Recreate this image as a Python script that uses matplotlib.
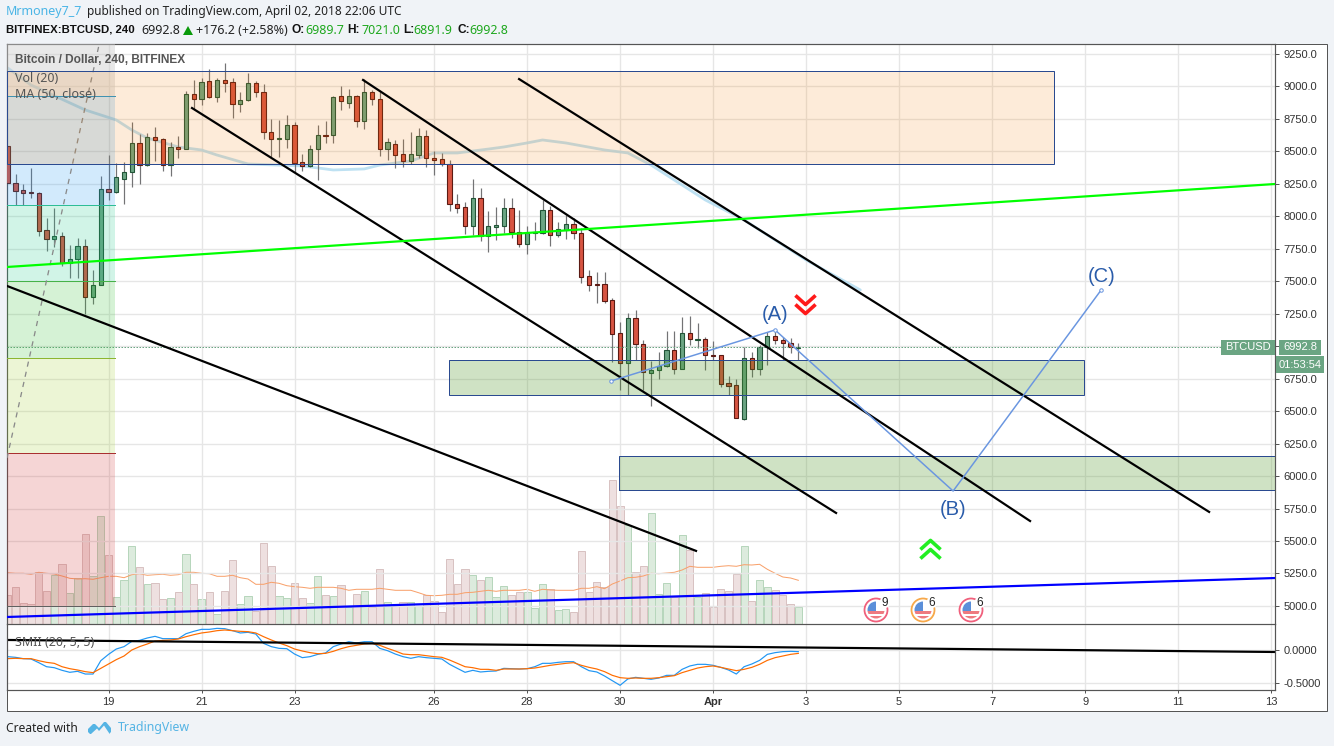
# -*- coding: utf-8 -*-
import matplotlib
matplotlib.use("Agg")
import matplotlib.pyplot as plt
import numpy as np
from matplotlib.patches import Circle, Rectangle, Polygon
from matplotlib.path import Path

plt.rcParams['font.family'] = ['Noto Sans', 'DejaVu Sans']

# bars are numbered from 19 March 00:00, six 4h bars per day
bars = np.arange(-13, 90)

opens = [8542, 8254, 8200, 8185, 8177, 7892, 7828, 7846, 7643, 7669, 7769, 7382, 7469,
         8208, 8190, 8290, 8339, 8562, 8393, 8608, 8593, 8393, 8532, 8521, 8940, 8901, 9040,
         8922, 9050, 9032, 8868, 8893, 9024, 8955, 8647, 8598, 8598, 8701, 8416, 8385, 8516,
         8624, 8624, 8924, 8875, 8924, 8732, 8955, 8901, 8521, 8555, 8478, 8429, 8475, 8616,
         8447, 8439, 8406, 8098, 8070, 7928, 8139, 7851, 7921, 7928, 8062, 7882, 7790, 7870,
         7874, 8046, 7859, 7895, 7939, 7869, 7538, 7479, 7477, 7353, 7099, 6868, 7215, 7020,
         6796, 6814, 6845, 6968, 6822, 7099, 7051, 7053, 6933, 6930, 6714, 6699, 6442, 6907,
         6822, 6992, 7076, 7045, 7028, 6989.7]
closes = [8254, 8198, 8182, 8177, 7890, 7828, 7851, 7643, 7669, 7769, 7382, 7469, 8208,
          8190, 8300, 8339, 8562, 8393, 8608, 8591, 8393, 8532, 8521, 8940, 8901, 9032, 8922,
          9050, 9029, 8868, 8893, 9024, 8955, 8647, 8598, 8603, 8701, 8413, 8388, 8516, 8624,
          8619, 8917, 8886, 8924, 8732, 8955, 8901, 8521, 8570, 8475, 8429, 8478, 8616, 8447,
          8437, 8403, 8098, 8067, 7928, 8139, 7851, 7923, 7931, 8062, 7882, 7790, 7869, 7880,
          8046, 7859, 7900, 7939, 7869, 7536, 7474, 7474, 7351, 7097, 6868, 7215, 7020, 6799,
          6814, 6848, 6968, 6822, 7099, 7053, 7056, 6930, 6927, 6712, 6696, 6450, 6907, 6822,
          6994, 7076, 7051, 7028, 6992, 6992.8]
highs = [8542, 8326, 8249, 8372, 8190, 7990, 8062, 7877, 7780, 7831, 7823, 7587, 8311,
         8473, 8411, 8421, 8727, 8632, 8639, 8686, 8601, 8570, 8619, 8968, 9050, 9065, 9135,
         9068, 9178, 9065, 8958, 9101, 9040, 9019, 8747, 8742, 8778, 8727, 8480, 8549, 8703,
         8737, 8927, 9004, 8981, 8934, 9058, 8973, 8960, 8601, 8588, 8596, 8647, 8678, 8665,
         8503, 8485, 8434, 8172, 8111, 8290, 8218, 8041, 8075, 8141, 8141, 8049, 7926, 7957,
         8126, 8080, 7957, 8010, 7985, 7908, 7587, 7572, 7572, 7369, 7184, 7253, 7279, 7048,
         6889, 6958, 7117, 7115, 7223, 7233, 7181, 7074, 7038, 6933, 6771, 6748, 6997, 6956,
         7010, 7112, 7125, 7074, 7061, 7021.0]
lows = [8254, 8087, 8087, 8139, 7849, 7733, 7767, 7618, 7528, 7528, 7248, 7325, 7469,
        8126, 8177, 8095, 8229, 8249, 8388, 8429, 8352, 8313, 8452, 8521, 8824, 8860, 8909,
        8883, 8960, 8760, 8804, 8888, 8922, 8598, 8460, 8460, 8529, 8344, 8352, 8383, 8280,
        8567, 8567, 8819, 8837, 8691, 8670, 8857, 8467, 8434, 8375, 8383, 8401, 8447, 8383,
        8318, 8390, 8044, 8028, 7864, 7857, 7810, 7728, 7818, 7874, 7831, 7767, 7710, 7818,
        7864, 7774, 7844, 7826, 7826, 7484, 7428, 7335, 7335, 6881, 6663, 6624, 6894, 6663,
        6542, 6748, 6843, 6786, 6822, 7010, 6984, 6817, 6894, 6684, 6624, 6450, 6432, 6766,
        6779, 6856, 7017, 6894, 6950, 6891.9]

# volume, hundreds of BTC
volumes = [29, 37, 21, 20, 52, 33, 49, 60, 31, 46, 90, 48, 108,
           69, 27, 44, 78, 57, 40, 41, 25, 26, 32, 70, 40, 25, 32,
           10, 33, 64, 20, 28, 13, 81, 58, 28, 26, 41, 26, 21, 48,
           29, 28, 39, 17, 30, 33, 17, 55, 22, 18, 22, 22, 18, 29,
           23, 12, 65, 40, 55, 49, 44, 47, 27, 38, 29, 32, 32, 16,
           40, 35, 14, 15, 12, 73, 32, 42, 37, 144, 118, 99, 52, 58,
           111, 30, 41, 27, 89, 74, 27, 31, 17, 35, 33, 50, 78, 23,
           44, 37, 34, 29, 20, 17]
vol_ma = [51.3, 50.7, 50.7, 49.7, 51.7, 50.7, 50, 48, 45.7, 45, 45.3, 44.7, 46.3,
          47.7, 47.7, 46.3, 49.3, 50.3, 48.7, 49.3, 49.7, 48.7, 49.3, 51.7, 51.7, 50.7, 50.3,
          47.7, 47.7, 48.7, 46.3, 45, 39.7, 39.7, 41.7, 40.7, 38.3, 37.3, 36.7, 35.7, 36.7,
          36.7, 36.7, 35.7, 33.7, 34.7, 34.7, 34.7, 35.7, 34.7, 33.7, 33.7, 33.7, 31.3, 28.7,
          28.3, 28.7, 29.7, 29.7, 31.3, 31.7, 32.7, 33.7, 32.7, 33.7, 33.7, 33.7, 34.7, 32.7,
          34.7, 34, 33.7, 33.7, 33.7, 35.7, 35.7, 37.3, 35.3, 40, 43, 46.3, 46.7, 48,
          50.7, 50.3, 51, 51.7, 54, 57.7, 56.7, 56.7, 56.7, 57.7, 58.3, 57.7, 59.3, 59,
          59.7, 54.7, 50.7, 47, 46, 43.7]

smi_blue = [-0.101, -0.111, -0.131, -0.136, -0.192, -0.253, -0.268, -0.308, -0.338, -0.323, -0.364, -0.364, -0.162,
            -0.066, 0.015, 0.051, 0.131, 0.146, 0.182, 0.207, 0.172, 0.172, 0.172, 0.247, 0.283, 0.313, 0.313,
            0.328, 0.323, 0.293, 0.258, 0.268, 0.242, 0.101, 0.051, 0.025, 0.020, -0.061, -0.116, -0.101, -0.066,
            -0.045, 0.051, 0.091, 0.126, 0.106, 0.126, 0.126, 0.025, -0.010, -0.061, -0.101, -0.126, -0.101, -0.116,
            -0.126, -0.136, -0.217, -0.278, -0.338, -0.308, -0.333, -0.323, -0.318, -0.278, -0.283, -0.288, -0.283, -0.253,
            -0.202, -0.202, -0.187, -0.177, -0.177, -0.253, -0.313, -0.333, -0.394, -0.465, -0.535, -0.439, -0.414, -0.429,
            -0.444, -0.424, -0.384, -0.384, -0.293, -0.242, -0.217, -0.217, -0.232, -0.263, -0.303, -0.364, -0.253, -0.212,
            -0.157, -0.066, -0.040, -0.025, -0.020, -0.025]
smi_orange = [-0.131, -0.126, -0.131, -0.131, -0.162, -0.187, -0.202, -0.253, -0.283, -0.303, -0.328, -0.343, -0.278,
              -0.212, -0.146, -0.091, 0.0, 0.051, 0.091, 0.136, 0.146, 0.152, 0.167, 0.202, 0.232, 0.258, 0.273,
              0.293, 0.303, 0.293, 0.283, 0.278, 0.258, 0.202, 0.152, 0.106, 0.066, 0.015, -0.015, -0.040, -0.056,
              -0.051, -0.020, 0.020, 0.051, 0.071, 0.091, 0.101, 0.071, 0.025, -0.015, -0.061, -0.071, -0.071, -0.086,
              -0.101, -0.111, -0.152, -0.202, -0.253, -0.268, -0.293, -0.293, -0.308, -0.288, -0.288, -0.288, -0.283, -0.273,
              -0.253, -0.232, -0.217, -0.202, -0.192, -0.232, -0.263, -0.288, -0.328, -0.384, -0.419, -0.429, -0.424, -0.429,
              -0.429, -0.419, -0.404, -0.389, -0.343, -0.308, -0.273, -0.253, -0.242, -0.263, -0.288, -0.313, -0.293, -0.263,
              -0.217, -0.157, -0.116, -0.091, -0.066, -0.051]

# MA(50) read at its bends
ma_bars = [-13, -10, -3, 1, 3, 5, 9, 12, 14, 18, 25, 29, 33, 35, 39, 42, 45, 49, 51, 54, 56, 59, 64, 67, 70, 77, 82, 90, 97]
ma_vals = [9142, 9011, 8819, 8742, 8665, 8603, 8534, 8511, 8472, 8403, 8388, 8357, 8365, 8395, 8426, 8488, 8488,
           8518, 8534, 8565, 8588, 8565, 8511, 8488, 8395, 8126, 7972, 7664, 7433]

price_ticks = np.arange(5000, 9251, 250)
date_ticks = [0, 12, 24, 42, 54, 66, 78, 90, 102, 114, 126, 138, 150]
date_labels = ['19', '21', '23', '26', '28', '30', 'Apr', '3', '5', '7', '9', '11', '13']

# fibonacci levels and colours
fib_levels = [9327, 8927, 8087, 7502, 6909, 6178, 5000]
fib_fills = ['#cccccc', '#2196f3', '#1cc88a', '#30c030', '#a0d030', '#d03030']
fib_lines = ['#2196c8', '#33bb99', '#4caf50', '#88b030', '#a03030', '#606060']

# drawings, (bar, price)
black_lines = [((10.77, 8834), (93.87, 5716)),
               ((32.84, 9050), (118.9, 5654)),
               ((52.97, 9057), (142, 5724)),
               ((-13.1, 7464), (75.8, 5424))]
wave_bars = [64.84, 86, 108.97, 128.07]
wave_vals = [6732, 7125, 5885, 7433]

W, H = 1334, 746
BG = '#f0f3f7'
GRID = '#e6e6e6'
EDGE = '#555555'
UP, DOWN = '#6ba583', '#d75442'
UP_EDGE, DOWN_EDGE = '#225437', '#5b1a13'
PX = 0.72  # one pixel in points at dpi 100
AXFONT = 'Liberation Sans'

fig = plt.figure(figsize=(W / 100, H / 100), dpi=100, facecolor=BG)


def pane(x0, y0, x1, y1, **kw):
    return fig.add_axes([x0 / W, 1 - y1 / H, (x1 - x0) / W, (y1 - y0) / H], **kw)


xlim = (-13.1, 150.5)

# page layer in pixels for the white card, header and footer
page = pane(0, 0, W, H, zorder=0)
page.set_xlim(0, W)
page.set_ylim(H, 0)
page.axis('off')
page.add_patch(Rectangle((6.5, 43.5), 1320.5, 667, fc='white', ec=EDGE, lw=PX))

ax_vol = pane(7, 44, 1275, 624, zorder=1)
ax = pane(7, 44, 1275, 624, zorder=2, sharex=ax_vol)
ax_smi = pane(7, 624, 1275, 690, zorder=2, sharex=ax_vol)
ax_vol.set_xlim(*xlim)

# volume
is_up = np.array(closes) >= np.array(opens)
vol = np.array(volumes, dtype=float)
ax_vol.set_ylim(0, 580)
ax_vol.set_facecolor('none')
ax_vol.bar(bars[is_up], vol[is_up], width=0.92, fc='#dcebdd', ec='#b7d6bc', lw=PX)
ax_vol.bar(bars[~is_up], vol[~is_up], width=0.92, fc='#eee0e0', ec='#d8c2c2', lw=PX)
ax_vol.plot(bars, vol_ma, color='#f8a06a', lw=PX)
ax_vol.axis('off')

# price pane
ax.set_facecolor('none')
ax.set_ylim(4861, 9327)
ax.set_yticks(price_ticks)
# the 7000.0 label sits under the last price tag in the reference
ax.set_yticklabels(['' if p == 7000 else '%.1f' % p for p in price_ticks])
ax.yaxis.tick_right()
ax.set_xticks(date_ticks)
ax.grid(True, color=GRID, lw=1.4 * PX, zorder=0)
ax.set_axisbelow(True)
ax.tick_params(axis='y', length=3, width=PX, color=EDGE, labelsize=8, labelcolor='#333333', pad=3, labelfontfamily=AXFONT)
ax.tick_params(axis='x', length=0, labelbottom=False)

ax.plot(ma_bars, ma_vals, color='#b3dcf0', lw=2.0, alpha=0.85, zorder=2, solid_capstyle='round')

# candles
for b, o, h, l, c in zip(bars, opens, highs, lows, closes):
    up = c >= o
    ax.plot([b, b], [l, h], color='#737375', lw=1.2 * PX, zorder=3, solid_capstyle='butt')
    ax.add_patch(Rectangle((b - 0.27, min(o, c)), 0.54, max(abs(c - o), 6),
                           fc=UP if up else DOWN, ec=UP_EDGE if up else DOWN_EDGE, lw=1.1 * PX, zorder=4))

ax.axhline(closes[-1], color=UP, lw=PX, ls=(0, (1.5, 1.5)), zorder=4)

# fib block on the left
for i in range(6):
    ax.add_patch(Rectangle((xlim[0], fib_levels[i + 1]), 0.85 - xlim[0], fib_levels[i] - fib_levels[i + 1],
                           fc=fib_fills[i], ec='none', alpha=0.2 if i else 0.45, zorder=5))
    ax.plot([xlim[0], 0.85], [fib_levels[i + 1]] * 2, color=fib_lines[i], lw=PX, zorder=5)
ax.plot([-13.1, -1.2], [6139, 9327], color='#8a8a8a', lw=1.3 * PX, ls=(0, (4, 4)), zorder=5)

# boxes
ax.add_patch(Rectangle((xlim[0], 8403), 122 - xlim[0], 716, fc='#f57c00', ec='none', alpha=0.15, zorder=6))
ax.add_patch(Rectangle((xlim[0], 8403), 122 - xlim[0], 716, fc='none', ec='#2a4a90', lw=PX, zorder=6))
for x0, x1, y0, y1 in [(43.9, 125.9, 6624, 6894), (65.9, 160, 5893, 6155)]:
    ax.add_patch(Rectangle((x0, y0), x1 - x0, y1 - y0, fc='#519728', ec='none', alpha=0.27, zorder=6))
    ax.add_patch(Rectangle((x0, y0), x1 - x0, y1 - y0, fc='none', ec='#2a4a90', lw=PX, zorder=6))

# trend lines
for p0, p1 in black_lines:
    ax.plot([p0[0], p1[0]], [p0[1], p1[1]], color='black', lw=2.2 * PX, zorder=7)
ax.plot([-13.1, 150.5], [7610, 8249], color='#00ff00', lw=2.2 * PX, zorder=7)
ax.plot([-13.1, 150.5], [4915, 5215], color='#0000ff', lw=2.2 * PX, zorder=7)

# abc wave
ax.plot(wave_bars, wave_vals, color='#6a96e0', lw=1.5 * PX, zorder=8)
ax.plot([wave_bars[0], wave_bars[1], wave_bars[-1]], [wave_vals[0], wave_vals[1], wave_vals[-1]], ls='none',
        marker='o', ms=2.5, mfc='white', mec='#6a96e0', mew=PX, zorder=8)
for t, b, p in [('(A)', 86, 7245), ('(B)', 108.97, 5743), ('(C)', 128.07, 7540)]:
    ax.text(b, p, t, color='#2a5caa', fontsize=14.5, ha='center', va='center', family=AXFONT, zorder=9)

# chevrons
chev_down = Path([(-1, 1.0), (0, 0.1), (1, 1.0), (-1, 0.1), (0, -0.8), (1, 0.1)],
                 [Path.MOVETO, Path.LINETO, Path.LINETO, Path.MOVETO, Path.LINETO, Path.LINETO])
chev_up = Path([(-1, -1.0), (0, -0.1), (1, -1.0), (-1, -0.1), (0, 0.8), (1, -0.1)],
               [Path.MOVETO, Path.LINETO, Path.LINETO, Path.MOVETO, Path.LINETO, Path.LINETO])
ax.plot([89.9], [7317], marker=chev_down, ms=14.5, mfc='none', mec='#ff1a1a', mew=2.6, ls='none', zorder=9)
ax.plot([106], [5446], marker=chev_up, ms=14.5, mfc='none', mec='#22ee22', mew=2.6, ls='none', zorder=9)

# SMI pane
ax_smi.set_facecolor('none')
ax_smi.set_ylim(-0.606, 0.394)
ax_smi.set_yticks([0, -0.5])
ax_smi.set_yticklabels(['0.0000', '-0.5000'])
ax_smi.yaxis.tick_right()
ax_smi.set_xticks(date_ticks)
ax_smi.set_xticklabels(date_labels)
for lab in ax_smi.get_xticklabels():
    if lab.get_text() == 'Apr':
        lab.set_fontweight('bold')
ax_smi.grid(True, color=GRID, lw=1.4 * PX)
ax_smi.set_axisbelow(True)
ax_smi.tick_params(axis='y', length=3, width=PX, color=EDGE, labelsize=8, labelcolor='#333333', pad=3, labelfontfamily=AXFONT)
ax_smi.tick_params(axis='x', length=2.5, width=PX, color=EDGE, labelsize=8, labelcolor='#333333', pad=2.5, labelfontfamily=AXFONT)
ax_smi.plot(bars, smi_blue, color='#2196f3', lw=1.2 * PX)
ax_smi.plot(bars, smi_orange, color='#ff6d00', lw=1.2 * PX)
ax_smi.plot([-13.1, 150.5], [0.152, -0.03], color='black', lw=2.2 * PX)

for a in (ax, ax_smi):
    for s in a.spines.values():
        s.set_color(EDGE)
        s.set_linewidth(1.2 * PX)
ax.spines['bottom'].set_visible(False)

# overlay layer, also in pixels
top = pane(0, 0, W, H, zorder=5)
top.set_xlim(0, W)
top.set_ylim(H, 0)
top.axis('off')
top.patch.set_alpha(0)

top.text(15, 60, 'Bitcoin / Dollar, 240, BITFINEX', fontsize=8.6, color='#555555', fontweight='bold', va='center', family=AXFONT)
top.text(15, 78, 'Vol (20)', fontsize=9, color='#555555', va='center')
top.text(15, 95, 'MA (50, close)', fontsize=9, color='#555555', va='center')
top.text(15, 642, 'SMII (20, 5, 5)', fontsize=9, color='#555555', va='center')

# last price tags
top.add_patch(Rectangle((1221, 339.5), 54, 15.5, fc=UP, ec='none'))
top.add_patch(Rectangle((1279, 339.5), 42, 15.5, fc=UP, ec='none'))
top.add_patch(Rectangle((1276, 356), 47.5, 16.5, fc=UP, ec='none'))
top.text(1248, 347.5, 'BTCUSD', color='white', fontsize=8, ha='center', va='center', family=AXFONT)
top.text(1300, 347.5, '6992.8', color='white', fontsize=8, ha='center', va='center', family=AXFONT)
top.text(1300, 364.5, '01:53:54', color='white', fontsize=8, ha='center', va='center', family=AXFONT)

# economic event flags
for cx, ring, n in [(876, '#f0607c', '9'), (923, '#f7a84a', '6'), (971, '#f0607c', '6')]:
    top.add_patch(Circle((cx, 610), 11.5, fc='white', ec=ring, lw=1.3))
    clip = Circle((cx, 610), 8.5, transform=top.transData)
    r1 = Rectangle((cx - 9, 601), 9, 9.5, fc='#5b8fd9', ec='none')
    r2 = Rectangle((cx - 9, 611), 18, 2.5, fc='#ee7a80', ec='none')
    r3 = Rectangle((cx - 9, 615.5), 18, 3, fc='#ee7a80', ec='none')
    for r in (r1, r2, r3):
        top.add_patch(r)
        r.set_clip_path(clip)
    top.add_patch(Circle((cx + 9, 602.5), 5.5, fc='white', ec='none'))
    top.text(cx + 9, 603, n, fontsize=8.5, color='#222222', ha='center', va='center', family=AXFONT)

# header
page.text(6, 12, 'Mrmoney7_7', color='#4ab5e6', fontsize=9, va='center')
page.text(87, 12, 'published on TradingView.com, April 02, 2018 22:06 UTC', color='#222222', fontsize=8.55, va='center')
page.text(6, 30, 'BITFINEX:BTCUSD, 240', color='#111111', fontsize=8.2, fontweight='bold', va='center', family=AXFONT)
page.text(141, 30, '6992.8', color='#222222', fontsize=9, va='center')
page.add_patch(Polygon([(183, 35), (193, 35), (188, 26)], fc='#0a9a0a', ec='none'))
page.text(196, 30, '+176.2 (+2.58%)', color='#222222', fontsize=9, va='center')
for lab, xl, val, xv in [('O:', 291, '6989.7', 305), ('H:', 347, '7021.0', 362), ('L:', 403, '6891.9', 413), ('C:', 457, '6992.8', 469)]:
    page.text(xl, 30, lab, color='#111111', fontsize=8.6, fontweight='bold', va='center', family=AXFONT)
    page.text(xv, 30, val, color='#1fa81f', fontsize=9, va='center')

# footer
page.text(6, 728, 'Created with', color='#222222', fontsize=8.6, va='center')
page.text(118, 728, 'TradingView', color='#55b4e4', fontsize=8.9, va='center')
page.add_patch(Polygon([(88, 732), (88, 729), (93, 724), (95, 724), (99, 728), (104, 722), (106, 722), (111, 728), (111, 732), (109, 734), (90, 734)],
                       fc='#55b4e4', ec='none'))
page.add_patch(Polygon([(91, 734), (97, 728.5), (99, 731), (104, 725.5), (109, 733), (109, 734)], fc=BG, ec='none'))

fig.savefig('out.png', dpi=100, facecolor=BG)
